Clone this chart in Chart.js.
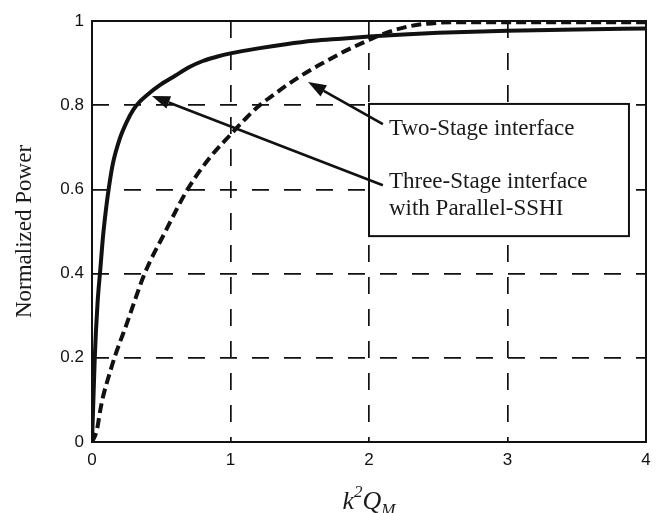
<!DOCTYPE html>
<html>
<head>
<meta charset="utf-8">
<script src="https://cdn.jsdelivr.net/npm/chart.js@4/dist/chart.umd.min.js"></script>
<style>
  html, body { margin: 0; padding: 0; background: #fff; overflow: hidden; }
  canvas { display: block; }
</style>
</head>
<body>
<canvas id="c" width="659" height="513"></canvas>
<script>
// ---- data ----
const kThreeStage = [0, 0.01, 0.02, 0.04, 0.06, 0.08, 0.1, 0.12, 0.15, 0.2, 0.25, 0.3, 0.35, 0.4, 0.5, 0.6, 0.7, 0.8, 0.9, 1.0, 1.2, 1.4, 1.6, 1.8, 2.0, 2.25, 2.5, 3.0, 3.5, 4.0];
const powerThreeStage = [0, 0.1, 0.2, 0.33, 0.41, 0.49, 0.55, 0.6, 0.66, 0.72, 0.76, 0.79, 0.81, 0.825, 0.85, 0.87, 0.89, 0.905, 0.915, 0.923, 0.935, 0.945, 0.953, 0.958, 0.963, 0.968, 0.972, 0.977, 0.98, 0.982];
const kTwoStage = [0, 0.035, 0.06, 0.08, 0.12, 0.166, 0.25, 0.38, 0.53, 0.69, 0.85, 1.0, 1.1, 1.2, 1.3, 1.4, 1.5, 1.6, 1.7, 1.8, 1.9, 2.0, 2.1, 2.2, 2.3, 2.4, 2.6, 3.0, 3.5, 4.0];
const powerTwoStage = [0, 0.028, 0.076, 0.108, 0.155, 0.204, 0.28, 0.40, 0.50, 0.60, 0.675, 0.73, 0.765, 0.797, 0.822, 0.846, 0.868, 0.888, 0.906, 0.924, 0.94, 0.955, 0.969, 0.98, 0.988, 0.993, 0.997, 0.997, 0.997, 0.997];
const xTickLabels = ['0', '1', '2', '3', '4'];
const yTickLabels = ['0', '0.2', '0.4', '0.6', '0.8', '1'];
const labelTwoStage = 'Two-Stage interface';
const labelThreeStage = ['Three-Stage interface', 'with Parallel-SSHI'];
const yTitle = 'Normalized Power';

const toPts = (xs, ys) => xs.map((x, i) => ({ x: x, y: ys[i] }));

const SERIF = '"Liberation Serif", "Times New Roman", serif';
const SANS = '"Liberation Sans", Arial, sans-serif';

function arrow(ctx, x1, y1, x2, y2) {
  const ang = Math.atan2(y2 - y1, x2 - x1);
  const L = 18, W = 6.5;
  const bx = x2 - L * Math.cos(ang), by = y2 - L * Math.sin(ang);
  ctx.beginPath();
  ctx.moveTo(x1, y1);
  ctx.lineTo(bx, by);
  ctx.lineWidth = 2.6;
  ctx.strokeStyle = '#111';
  ctx.stroke();
  ctx.beginPath();
  ctx.moveTo(x2, y2);
  ctx.lineTo(bx + W * Math.sin(ang), by - W * Math.cos(ang));
  ctx.lineTo(bx - W * Math.sin(ang), by + W * Math.cos(ang));
  ctx.closePath();
  ctx.fillStyle = '#111';
  ctx.fill();
}

const annot = {
  id: 'annot',
  afterDatasetsDraw(chart) {
    const { ctx, chartArea: a, scales } = chart;
    const X = v => scales.x.getPixelForValue(v);
    const Y = v => scales.y.getPixelForValue(v);
    ctx.save();
    // frame
    ctx.lineWidth = 2;
    ctx.strokeStyle = '#111';
    ctx.strokeRect(a.left, a.top, a.right - a.left, a.bottom - a.top);
    // legend box
    const bx1 = X(2.0), bx2 = X(3.877), by1 = Y(0.803), by2 = Y(0.489);
    ctx.fillStyle = '#fff';
    ctx.fillRect(bx1, by1, bx2 - bx1, by2 - by1);
    ctx.lineWidth = 2;
    ctx.strokeRect(bx1, by1, bx2 - bx1, by2 - by1);
    // arrows
    arrow(ctx, X(2.1), Y(0.755), X(1.56), Y(0.855));
    arrow(ctx, X(2.1), Y(0.61), X(0.433), Y(0.822));
    // texts
    ctx.fillStyle = '#1a1a1a';
    ctx.font = '23px ' + SERIF;
    ctx.textAlign = 'left';
    ctx.textBaseline = 'alphabetic';
    ctx.fillText(labelTwoStage, X(2.144), Y(0.729));
    ctx.fillText(labelThreeStage[0], X(2.144), Y(0.603));
    ctx.fillText(labelThreeStage[1], X(2.144), Y(0.539));
    ctx.restore();
  },
  afterDraw(chart) {
    const { ctx, chartArea: a } = chart;
    ctx.save();
    // y title
    ctx.fillStyle = '#1a1a1a';
    ctx.font = '23px ' + SERIF;
    ctx.translate(31, (a.top + a.bottom) / 2);
    ctx.rotate(-Math.PI / 2);
    ctx.textAlign = 'center';
    ctx.textBaseline = 'alphabetic';
    ctx.fillText(yTitle, 0, 0);
    ctx.restore();
    // x title: k^2 Q_M (italic)
    ctx.save();
    ctx.fillStyle = '#1a1a1a';
    ctx.textBaseline = 'alphabetic';
    ctx.textAlign = 'left';
    const base = 509;
    const big = 'italic 26px ' + SERIF, small = 'italic 17px ' + SERIF;
    ctx.font = big; const wk = ctx.measureText('k').width;
    ctx.font = small; const w2 = ctx.measureText('2').width;
    ctx.font = big; const wq = ctx.measureText('Q').width;
    ctx.font = small; const wm = ctx.measureText('M').width;
    const total = wk + w2 + wq + wm;
    let x = (a.left + a.right) / 2 - total / 2;
    ctx.font = big; ctx.fillText('k', x, base); x += wk;
    ctx.font = small; ctx.fillText('2', x, base - 12); x += w2;
    ctx.font = big; ctx.fillText('Q', x, base); x += wq;
    ctx.font = small; ctx.fillText('M', x, base + 6);
    ctx.restore();
  }
};

new Chart(document.getElementById('c'), {
  type: 'line',
  data: {
    datasets: [
      {
        label: labelThreeStage.join(' '),
        data: toPts(kThreeStage, powerThreeStage),
        borderColor: '#111',
        borderWidth: 4,
        pointRadius: 0,
        cubicInterpolationMode: 'monotone',
        fill: false
      },
      {
        label: labelTwoStage,
        data: toPts(kTwoStage, powerTwoStage),
        borderColor: '#111',
        borderWidth: 4,
        borderDash: [10, 5],
        pointRadius: 0,
        cubicInterpolationMode: 'monotone',
        fill: false
      }
    ]
  },
  options: {
    responsive: false,
    animation: false,
    layout: { padding: { left: 0, top: 21, right: 13, bottom: 0 } },
    plugins: { legend: { display: false }, tooltip: { enabled: false } },
    scales: {
      x: {
        type: 'linear',
        min: 0, max: 4,
        afterFit(s) { s.height = 71; },
        ticks: {
          stepSize: 1,
          color: '#111',
          font: { family: SANS, size: 17 },
          padding: 8,
          callback: (v, i) => xTickLabels[i]
        },
        grid: { color: '#111', lineWidth: 1.7, drawTicks: false },
        border: { display: false, dash: [17, 15] }
      },
      y: {
        type: 'linear',
        min: 0, max: 1,
        afterFit(s) { s.width = 92; },
        ticks: {
          stepSize: 0.2,
          color: '#111',
          font: { family: SANS, size: 17 },
          padding: 8,
          callback: (v, i) => yTickLabels[i]
        },
        grid: { color: '#111', lineWidth: 1.7, drawTicks: false },
        border: { display: false, dash: [17, 15] }
      }
    }
  },
  plugins: [annot]
});
</script>
</body>
</html>
